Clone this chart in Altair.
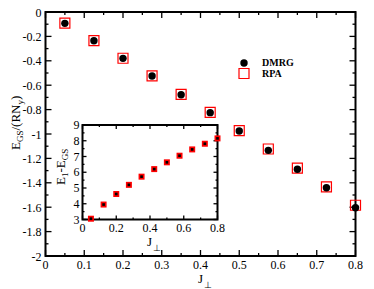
import altair as alt
import pandas as pd

# ---- data ----
J = [0.05, 0.125, 0.2, 0.275, 0.35, 0.425, 0.5, 0.575, 0.65, 0.725, 0.8]
E_dmrg = [-0.093, -0.235, -0.38, -0.525, -0.678, -0.825, -0.975, -1.134, -1.289, -1.44, -1.604]
E_rpa = [-0.092, -0.234, -0.379, -0.524, -0.676, -0.822, -0.972, -1.123, -1.279, -1.434, -1.584]
gap_dmrg = [3.05, 3.95, 4.62, 5.2, 5.72, 6.2, 6.63, 7.05, 7.45, 7.81, 8.15]
gap_rpa = [3.05, 3.95, 4.62, 5.2, 5.72, 6.2, 6.63, 7.05, 7.45, 7.81, 8.15]

main_x_major = [0, 0.1, 0.2, 0.3, 0.4, 0.5, 0.6, 0.7, 0.8]
main_x_labels = ["0", "0.1", "0.2", "0.3", "0.4", "0.5", "0.6", "0.7", "0.8"]
main_x_minor = [0.05, 0.15, 0.25, 0.35, 0.45, 0.55, 0.65, 0.75]
main_y_major = [0, -0.2, -0.4, -0.6, -0.8, -1, -1.2, -1.4, -1.6, -1.8, -2]
main_y_labels = ["0", "-0.2", "-0.4", "-0.6", "-0.8", "-1", "-1.2", "-1.4", "-1.6", "-1.8", "-2"]
main_y_minor = [-0.1, -0.3, -0.5, -0.7, -0.9, -1.1, -1.3, -1.5, -1.7, -1.9]

ins_x_major = [0, 0.2, 0.4, 0.6, 0.8]
ins_x_labels = ["0", "0.2", "0.4", "0.6", "0.8"]
ins_x_minor = [0.1, 0.3, 0.5, 0.7]
ins_y_major = [3, 4, 5, 6, 7, 8, 9]
ins_y_labels = ["3", "4", "5", "6", "7", "8", "9"]
ins_y_minor = [3.5, 4.5, 5.5, 6.5, 7.5, 8.5]

FONT = "Liberation Serif"
W, H = 310, 244

main_df = pd.DataFrame({"J": J, "DMRG": E_dmrg, "RPA": E_rpa})
ins_df = pd.DataFrame({"J": J, "DMRG": gap_dmrg, "RPA": gap_rpa})


def XS():
    return alt.Scale(domain=[0, 0.8], nice=False, zero=False)


def YS():
    return alt.Scale(domain=[-2, 0], nice=False, zero=False)


def XI():
    return alt.Scale(domain=[0, 0.8], range=[37, 172], nice=False, zero=False)


def YI():
    return alt.Scale(domain=[3, 9], range=[207.5, 113], nice=False, zero=False)


one = pd.DataFrame({"a": [0]})
layers = []


def frame(xs, ys, x0, x1, y0, y1, fill):
    return alt.Chart(one).mark_rect(fill=fill, stroke="black", strokeWidth=2).encode(
        x=alt.XDatum(x0, scale=xs, axis=None, type="quantitative"),
        x2=alt.X2Datum(x1),
        y=alt.YDatum(y0, scale=ys, axis=None, type="quantitative"),
        y2=alt.Y2Datum(y1),
    )


def xticks(vals, xs, ys, edge, off):
    df = pd.DataFrame({"v": vals})
    return alt.Chart(df).mark_rule(color="black", strokeWidth=1.3, y2Offset=off).encode(
        x=alt.X("v:Q", scale=xs, axis=None),
        y=alt.YDatum(edge, scale=ys, axis=None, type="quantitative"),
        y2=alt.Y2Datum(edge),
    )


def yticks(vals, xs, ys, edge, off):
    df = pd.DataFrame({"v": vals})
    return alt.Chart(df).mark_rule(color="black", strokeWidth=1.3, x2Offset=off).encode(
        y=alt.Y("v:Q", scale=ys, axis=None),
        x=alt.XDatum(edge, scale=xs, axis=None, type="quantitative"),
        x2=alt.X2Datum(edge),
    )


def label(txt, x, y, size=12, angle=0, align="left", baseline="alphabetic", weight="normal"):
    return alt.Chart(one).mark_text(
        text=txt, font=FONT, fontSize=size, angle=angle, align=align,
        baseline=baseline, fontWeight=weight, color="black",
    ).encode(x=alt.value(x), y=alt.value(y))


# ---- main panel ----
layers.append(frame(XS(), YS(), 0, 0.8, -2, 0, "transparent"))
MJ, mn = 6, 3
layers += [
    xticks(main_x_major, XS(), YS(), -2, -MJ), xticks(main_x_minor, XS(), YS(), -2, -mn),
    xticks(main_x_major, XS(), YS(), 0, MJ), xticks(main_x_minor, XS(), YS(), 0, mn),
    yticks(main_y_major, XS(), YS(), 0, MJ), yticks(main_y_minor, XS(), YS(), 0, mn),
    yticks(main_y_major, XS(), YS(), 0.8, -MJ), yticks(main_y_minor, XS(), YS(), 0.8, -mn),
]
layers.append(alt.Chart(main_df).mark_point(shape="square", filled=False, color="#ff0000",
                                            strokeWidth=1.2, size=100, opacity=1).encode(
    x=alt.X("J:Q", scale=XS(), axis=None), y=alt.Y("RPA:Q", scale=YS(), axis=None)))
layers.append(alt.Chart(main_df).mark_point(shape="circle", filled=True, color="black",
                                            size=55, opacity=1).encode(
    x=alt.X("J:Q", scale=XS(), axis=None), y=alt.Y("DMRG:Q", scale=YS(), axis=None)))

# tick labels main
layers.append(alt.Chart(pd.DataFrame({"v": main_x_major, "t": main_x_labels})).mark_text(
    font=FONT, fontSize=12, baseline="middle", align="center", color="black").encode(
    x=alt.X("v:Q", scale=XS(), axis=None), y=alt.value(252.5), text="t:N"))
layers.append(alt.Chart(pd.DataFrame({"v": main_y_major, "t": main_y_labels})).mark_text(
    font=FONT, fontSize=12, baseline="middle", align="right", color="black", dy=0.5).encode(
    y=alt.Y("v:Q", scale=YS(), axis=None), x=alt.value(-4), text="t:N"))

# ---- inset ----
layers.append(frame(XI(), YI(), 0, 0.8, 3, 9, "white"))
IJ, imn = 4, 2
layers += [
    xticks(ins_x_major, XI(), YI(), 3, -IJ), xticks(ins_x_minor, XI(), YI(), 3, -imn),
    xticks(ins_x_major, XI(), YI(), 9, IJ), xticks(ins_x_minor, XI(), YI(), 9, imn),
    yticks(ins_y_major, XI(), YI(), 0, IJ), yticks(ins_y_minor, XI(), YI(), 0, imn),
    yticks(ins_y_major, XI(), YI(), 0.8, -IJ), yticks(ins_y_minor, XI(), YI(), 0.8, -imn),
]
layers.append(alt.Chart(ins_df).mark_point(shape="square", filled=True, color="#ff0000",
                                           size=36, opacity=1).encode(
    x=alt.X("J:Q", scale=XI(), axis=None), y=alt.Y("RPA:Q", scale=YI(), axis=None)))
layers.append(alt.Chart(ins_df).mark_point(shape="square", filled=True, color="black",
                                           size=7, opacity=1).encode(
    x=alt.X("J:Q", scale=XI(), axis=None), y=alt.Y("DMRG:Q", scale=YI(), axis=None)))
layers.append(alt.Chart(pd.DataFrame({"v": ins_x_major, "t": ins_x_labels})).mark_text(
    font=FONT, fontSize=12, baseline="middle", align="center", color="black").encode(
    x=alt.X("v:Q", scale=XI(), axis=None), y=alt.value(215.5), text="t:N"))
layers.append(alt.Chart(pd.DataFrame({"v": ins_y_major, "t": ins_y_labels})).mark_text(
    font=FONT, fontSize=12, baseline="middle", align="right", color="black").encode(
    y=alt.Y("v:Q", scale=YI(), axis=None), x=alt.value(34), text="t:N"))

# ---- titles ----
# main x title J_perp
layers.append(label("J", 152.5, 271, size=13))
layers.append(label("\u22a5", 158.5, 276, size=9))
# inset x title
layers.append(label("J", 101.5, 233.5, size=13))
layers.append(label("\u22a5", 107.5, 238.5, size=9))
# main y title E_GS/(RN_y), rotated
yb, xb, xsb = 138, -26, -23
parts = [("E", 13, xb, 7.94), ("GS", 9, xsb, 11.5), ("/(RN", 13, xb, 26.0), ("y", 9, xsb, 4.5), (")", 13, xb, 4.33)]
for txt, sz, xx, w in parts:
    layers.append(label(txt, xx, yb, size=sz, angle=270))
    yb -= w
# inset y title E_1-E_GS
yb, xb, xsb = 173, 19.5, 22
parts = [("E", 13, xb, 7.94), ("1", 9, xsb, 4.5), ("-E", 13, xb, 12.27), ("GS", 9, xsb, 11.5)]
for txt, sz, xx, w in parts:
    layers.append(label(txt, xx, yb, size=sz, angle=270))
    yb -= w

# ---- legend ----
layers.append(alt.Chart(one).mark_point(shape="circle", filled=True, color="black", size=55, opacity=1)
              .encode(x=alt.value(198.5), y=alt.value(51)))
layers.append(alt.Chart(one).mark_point(shape="square", filled=False, color="#ff0000", size=100,
                                        strokeWidth=1.2, opacity=1)
              .encode(x=alt.value(198.5), y=alt.value(61.5)))
layers.append(label("DMRG", 216.5, 51, size=10, baseline="middle", weight="bold"))
layers.append(label("RPA", 216.5, 61.5, size=10, baseline="middle", weight="bold"))

chart = alt.layer(*layers).resolve_scale(x="independent", y="independent").properties(
    width=W, height=H,
    autosize=alt.AutoSizeParams(type="none"),
    padding={"left": 37.5, "top": 4, "right": 8.5, "bottom": 33},
).configure_view(stroke=None)

chart.save("out.html", embed_options={"renderer": "svg", "actions": False})
